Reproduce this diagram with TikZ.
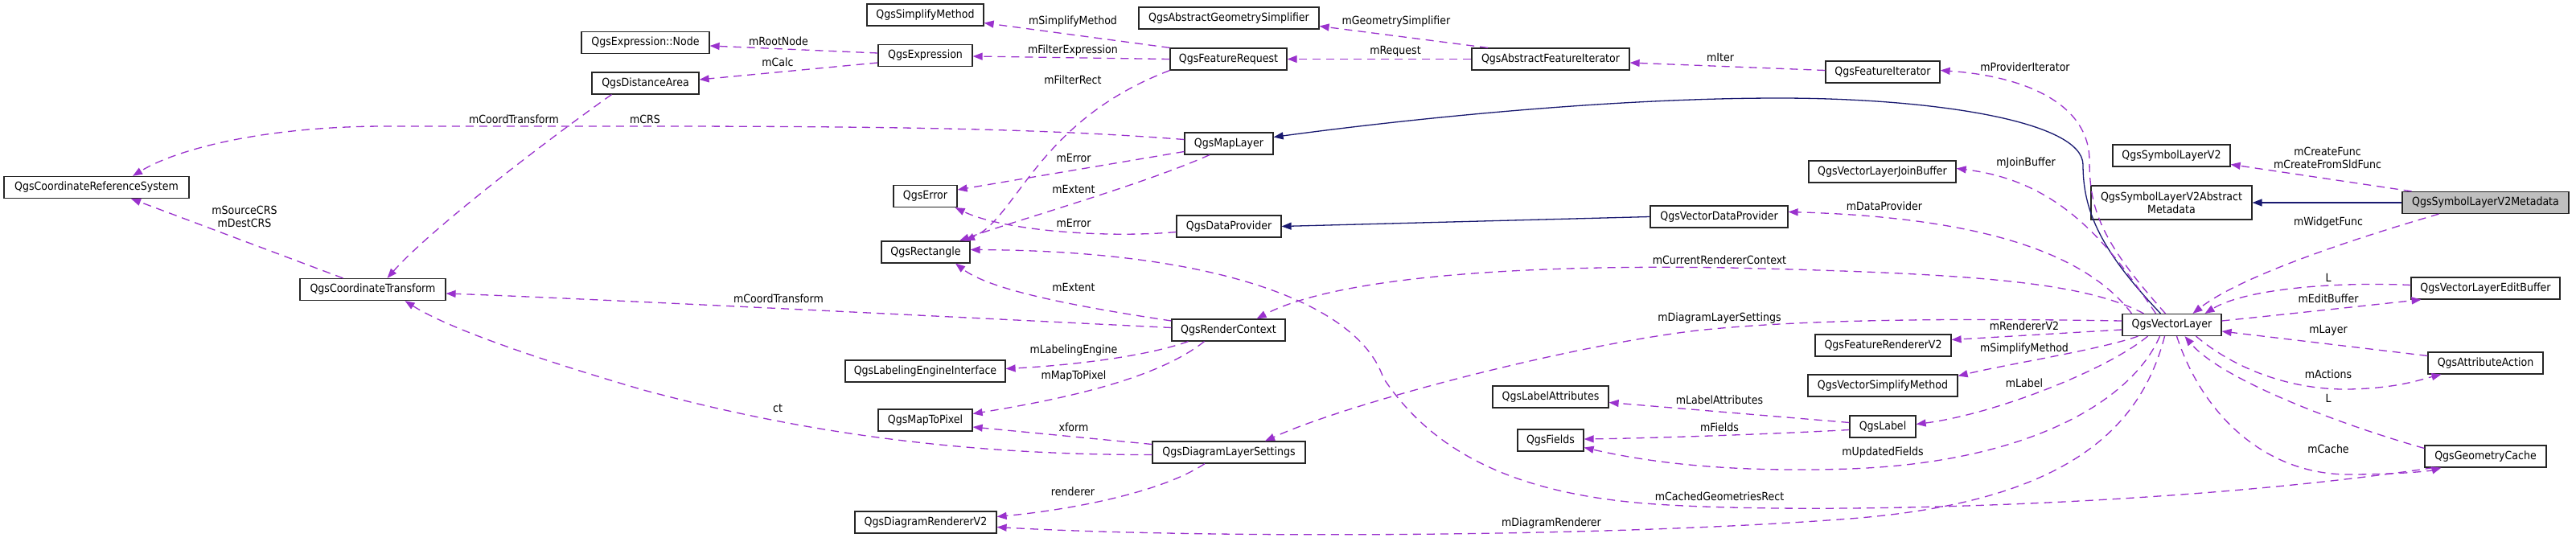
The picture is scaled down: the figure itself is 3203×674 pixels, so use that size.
\documentclass[tikz,border=0pt]{standalone}
\usepackage{fontspec}
\setmainfont{DejaVu Sans Condensed}
\usetikzlibrary{arrows.meta}
\definecolor{rel}{HTML}{9A32CD}
\definecolor{inh}{HTML}{191970}
\definecolor{focus}{HTML}{BFBFBF}
\tikzset{
  cls/.style={draw=black!85, line width=1.2pt, fill=white, inner sep=0pt, minimum height=27pt, font=\fontsize{14}{16}\selectfont, text=black},
  lbl/.style={inner sep=0pt, font=\fontsize{14}{16}\selectfont, align=center, text=black},
  uses/.style={draw=rel, line width=1.3pt, dash pattern=on 10pt off 7pt, -{Triangle[length=12pt,width=9pt]}},
  isa/.style={draw=inh, line width=1.3pt, -{Triangle[length=12pt,width=9pt]}},
}
\begin{document}
\begin{tikzpicture}[x=1pt,y=-1pt]
\fill[white] (0,0) rectangle (3203,674);
\useasboundingbox (0,0) rectangle (3203,674);
% classes
\node[cls, minimum width=230pt] (crs) at (120,233) {QgsCoordinateReferenceSystem};
\node[cls, minimum width=159pt] (exprnode) at (802.5,53) {QgsExpression::Node};
\node[cls, minimum width=133pt] (dist) at (802.5,103.5) {QgsDistanceArea};
\node[cls, minimum width=145pt] (simpl) at (1150.5,18.5) {QgsSimplifyMethod};
\node[cls, minimum width=117pt] (expr) at (1150.5,69) {QgsExpression};
\node[cls, minimum width=224pt] (absgeom) at (1528,22.5) {QgsAbstractGeometrySimplifier};
\node[cls, minimum width=145pt] (freq) at (1527.5,73.5) {QgsFeatureRequest};
\node[cls, minimum width=110pt] (maplayer) at (1528,178.5) {QgsMapLayer};
\node[cls, minimum width=79pt] (error) at (1150.5,244) {QgsError};
\node[cls, minimum width=130pt] (dataprov) at (1528,281.5) {QgsDataProvider};
\node[cls, minimum width=110pt] (rect) at (1151,313.5) {QgsRectangle};
\node[cls, minimum width=196pt] (absfit) at (1928,73.5) {QgsAbstractFeatureIterator};
\node[cls, minimum width=142pt] (fit) at (2341,89.5) {QgsFeatureIterator};
\node[cls, minimum width=183pt] (join) at (2340.5,213.5) {QgsVectorLayerJoinBuffer};
\node[cls, minimum width=171pt] (vdp) at (2137.5,269.5) {QgsVectorDataProvider};
\node[cls, minimum width=146pt] (slv2) at (2700,193.5) {QgsSymbolLayerV2};
\node[cls, minimum width=200pt, minimum height=42pt, align=center] (absmeta) at (2700,252) {QgsSymbolLayerV2Abstract\\Metadata};
\node[cls, minimum width=207pt, fill=focus] (meta) at (3090.5,252) {QgsSymbolLayerV2Metadata};
\node[cls, minimum width=181pt] (ct) at (463.5,360) {QgsCoordinateTransform};
\node[cls, minimum width=141pt] (rc) at (1527.5,410.5) {QgsRenderContext};
\node[cls, minimum width=199pt] (lei) at (1150.5,461.5) {QgsLabelingEngineInterface};
\node[cls, minimum width=117pt] (m2p) at (1150.5,522.5) {QgsMapToPixel};
\node[cls, minimum width=190pt] (dls) at (1528,562.5) {QgsDiagramLayerSettings};
\node[cls, minimum width=176pt] (dr) at (1151,649.5) {QgsDiagramRendererV2};
\node[cls, minimum width=169pt] (fr) at (2341.5,429.5) {QgsFeatureRendererV2};
\node[cls, minimum width=186pt] (vsm) at (2341,479.5) {QgsVectorSimplifyMethod};
\node[cls, minimum width=144pt] (la) at (1928,493.5) {QgsLabelAttributes};
\node[cls, minimum width=82pt] (fields) at (1928,547.5) {QgsFields};
\node[cls, minimum width=82pt] (label) at (2341,530.5) {QgsLabel};
\node[cls, minimum width=123pt] (vl) at (2700.5,404) {QgsVectorLayer};
\node[cls, minimum width=185pt] (eb) at (3090.5,358.5) {QgsVectorLayerEditBuffer};
\node[cls, minimum width=143pt] (aa) at (3090.5,451.5) {QgsAttributeAction};
\node[cls, minimum width=151pt] (gc) at (3090.5,567.5) {QgsGeometryCache};
% connectors
\draw[uses] ([yshift=3pt]expr.west) -- ([yshift=-4pt]exprnode.east);
\draw[uses] ([yshift=-9pt]expr.west) -- ([yshift=4.5pt]dist.east);
\draw[uses] ([xshift=-42pt]dist.south) .. controls (700,160) and (540,280) .. ([xshift=18pt]ct.north);
\draw[uses] ([yshift=5pt]maplayer.west) .. controls (1300,160) and (1100,157) .. (800,157) -- (480,157) .. controls (330,157) and (220,185) .. ([xshift=45pt]crs.north);
\draw[uses] ([xshift=-37pt]ct.north) -- ([xshift=43pt]crs.south);
\draw[uses] (freq.north west) -- ([yshift=-10pt]simpl.east);
\draw[uses] (freq.west) -- ([yshift=-1pt]expr.east);
\draw[uses] (freq.south west) .. controls (1290,150) and (1265,270) .. ([xshift=49pt]rect.north);
\draw[uses] ([yshift=-10pt]maplayer.west) -- ([yshift=8pt]error.east);
\draw[uses] ([xshift=-24pt]maplayer.south) .. controls (1420,230) and (1260,275) .. ([xshift=42pt]rect.north);
\draw[uses] ([yshift=-7pt]dataprov.west) .. controls (1380,296) and (1250,288) .. ([xshift=-3pt]error.south east);
\draw[isa] (vdp.west) -- (dataprov.east);
\draw[isa] ([xshift=-14pt]vl.north) .. controls (2610,310) and (2590,260) .. (2590,205) .. controls (2590,150) and (2400,122) .. (2212,122) .. controls (2000,122) and (1750,148) .. ([yshift=8pt]maplayer.east);
\draw[isa] (meta.west) -- (absmeta.east);
\draw[uses] ([xshift=-92pt]meta.north) -- ([yshift=-11pt]slv2.east);
\draw[uses] ([xshift=-58pt]meta.south) .. controls (2950,290) and (2790,340) .. ([xshift=26pt]vl.north);
\draw[uses] ([yshift=4pt]eb.west) .. controls (2900,350) and (2790,360) .. ([xshift=41pt]vl.north);
\draw[uses] ([yshift=5pt]vl.east) .. controls (2850,390) and (2960,378) .. ([xshift=-80pt]eb.south);
\draw[uses] ([yshift=9pt]aa.west) -- ([yshift=-8pt]vl.east);
\draw[uses] ([xshift=30pt]vl.south) .. controls (2780,460) and (2850,485) .. (2920,484) .. controls (2980,483) and (3010,472) .. ([xshift=-55pt]aa.south);
\draw[uses] ([yshift=10pt]gc.west) .. controls (2900,525) and (2760,470) .. ([xshift=16pt]vl.south);
\draw[uses] ([xshift=6pt]vl.south) .. controls (2740,520) and (2820,590) .. (2920,590) .. controls (2980,590) and (3020,586) .. ([xshift=-55pt]gc.south);
\draw[uses] ([yshift=-6pt]vl.west) -- ([yshift=7pt]fr.east);
\draw[uses] ([xshift=-42pt]vl.south) .. controls (2610,435) and (2500,452) .. ([yshift=12pt]vsm.east);
\draw[uses] ([xshift=-30pt]vl.south) .. controls (2620,460) and (2480,515) .. ([yshift=3pt]label.east);
\draw[uses] ([xshift=-15pt]vl.south) .. controls (2650,500) and (2520,575) .. (2300,583) .. controls (2150,588) and (2050,575) .. ([yshift=-9pt]fields.east);
\draw[uses] ([xshift=-9pt]vl.south) .. controls (2660,540) and (2560,625) .. (2300,645) .. controls (2000,668) and (1500,670) .. ([yshift=-6pt]dr.east);
\draw[uses] ([xshift=-65pt]gc.south) .. controls (2700,630) and (2250,640) .. (2059,627) .. controls (1880,615) and (1780,560) .. (1720,470) .. controls (1690,380) and (1520,312) .. ([yshift=3pt]rect.east);
\draw[uses] ([yshift=5pt]vl.west) .. controls (2450,396) and (2250,396) .. (2110,411) .. controls (1950,430) and (1680,500) .. ([xshift=45pt]dls.north);
\draw[uses] ([xshift=-35pt]vl.north) .. controls (2590,350) and (2450,340) .. (2150,333) .. controls (1850,328) and (1650,350) .. ([xshift=35pt]rc.north);
\draw[uses] ([xshift=-50pt]vl.north) .. controls (2590,310) and (2450,270) .. ([yshift=6pt]vdp.east);
\draw[uses] ([xshift=-20pt]vl.north) .. controls (2620,300) and (2560,225) .. ([yshift=4pt]join.east);
\draw[uses] ([xshift=-8pt]vl.north) .. controls (2612,300) and (2598,260) .. (2598,200) .. controls (2598,130) and (2520,95) .. ([yshift=2pt]fit.east);
\draw[uses] ([yshift=2pt]fit.west) -- ([yshift=-4.5pt]absfit.east);
\draw[uses] (absfit.west) -- (freq.east);
\draw[uses] ([xshift=-78pt]absfit.north) -- ([yshift=-10pt]absgeom.east);
\draw[uses] ([yshift=5pt]label.west) -- ([yshift=-7pt]la.east);
\draw[uses] ([yshift=-4pt]label.west) .. controls (2200,540) and (2050,545) .. ([yshift=1.5pt]fields.east);
\draw[uses] ([yshift=11.5pt]rc.west) .. controls (1330,380) and (1230,360) .. ([xshift=37pt]rect.south);
\draw[uses] ([yshift=3pt]rc.west) .. controls (1100,390) and (700,370) .. ([yshift=-5pt]ct.east);
\draw[uses] ([xshift=-50pt]rc.south) .. controls (1420,445) and (1320,455) .. ([yshift=3pt]lei.east);
\draw[uses] ([xshift=-30pt]rc.south) .. controls (1440,470) and (1330,495) .. ([yshift=8pt]m2p.east);
\draw[uses] ([yshift=10pt]dls.west) -- ([yshift=-8.5pt]m2p.east);
\draw[uses] ([yshift=-3pt]dls.west) .. controls (1150,566) and (950,525) .. (800,485) .. controls (680,450) and (560,410) .. ([xshift=40pt]ct.south);
\draw[uses] ([xshift=-30pt]dls.south) .. controls (1440,615) and (1320,635) .. ([yshift=7pt]dr.east);
% labels
\node[lbl] (t1) at (968,51) {mRootNode};
\node[lbl] (t2) at (967,77) {mCalc};
\node[lbl] (t3) at (639,148) {mCoordTransform};
\node[lbl] (t4) at (802,148) {mCRS};
\node[lbl] (t5) at (304,269) {mSourceCRS\\mDestCRS};
\node[lbl] (t6) at (1334,27) {mSimplifyMethod};
\node[lbl] (t7) at (1334,63) {mFilterExpression};
\node[lbl] (t8) at (1334,99) {mFilterRect};
\node[lbl] (t9) at (1335,196) {mError};
\node[lbl] (t10) at (1335,235) {mExtent};
\node[lbl] (t11) at (1335,277) {mError};
\node[lbl] (t12) at (1736,27) {mGeometrySimplifier};
\node[lbl] (t13) at (1735,64) {mRequest};
\node[lbl] (t14) at (2139,71) {mIter};
\node[lbl] (t15) at (2343,256) {mDataProvider};
\node[lbl] (t16) at (2138,323) {mCurrentRendererContext};
\node[lbl] (t17) at (2518,83) {mProviderIterator};
\node[lbl] (t18) at (2519,203) {mJoinBuffer};
\node[lbl] (t19) at (2894,196) {mCreateFunc\\mCreateFromSldFunc};
\node[lbl] (t20) at (2895,277) {mWidgetFunc};
\node[lbl] (t21) at (1335,357) {mExtent};
\node[lbl] (t22) at (968,371) {mCoordTransform};
\node[lbl] (t23) at (1335,436) {mLabelingEngine};
\node[lbl] (t24) at (1335,468) {mMapToPixel};
\node[lbl] (t25) at (967,508) {ct};
\node[lbl] (t26) at (1335,531) {xform};
\node[lbl] (t27) at (1334,611) {renderer};
\node[lbl] (t28) at (2138,396) {mDiagramLayerSettings};
\node[lbl] (t29) at (2138,497) {mLabelAttributes};
\node[lbl] (t30) at (2138,531) {mFields};
\node[lbl] (t31) at (2341,563) {mUpdatedFields};
\node[lbl] (t32) at (2138,617) {mCachedGeometriesRect};
\node[lbl] (t33) at (1929,651) {mDiagramRenderer};
\node[lbl] (t34) at (2895,345) {L};
\node[lbl] (t35) at (2895,371) {mEditBuffer};
\node[lbl] (t36) at (2895,411) {mLayer};
\node[lbl] (t37) at (2895,465) {mActions};
\node[lbl] (t38) at (2895,495) {L};
\node[lbl] (t39) at (2895,558) {mCache};
\node[lbl] (t40) at (2517,405) {mRendererV2};
\node[lbl] (t41) at (2517,434) {mSimplifyMethod};
\node[lbl] (t42) at (2517,476) {mLabel};
\end{tikzpicture}
\end{document}
